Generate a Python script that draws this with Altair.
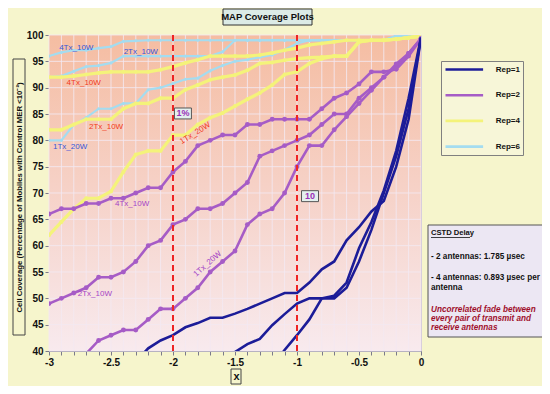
import altair as alt
import pandas as pd

FONT = "Liberation Sans, Arial, sans-serif"

# ---------------- data ----------------
x_vals = [-3.0, -2.9, -2.8, -2.7, -2.6, -2.5, -2.4, -2.3, -2.2, -2.1,
          -2.0, -1.9, -1.8, -1.7, -1.6, -1.5, -1.4, -1.3, -1.2, -1.1,
          -1.0, -0.9, -0.8, -0.7, -0.6, -0.5, -0.4, -0.3, -0.2, -0.1, 0.0]
y_ticks = [40, 45, 50, 55, 60, 65, 70, 75, 80, 85, 90, 95, 100]

reps = ["Rep=1", "Rep=2", "Rep=4", "Rep=6"]
rep_colors = ["#1c1c98", "#a65cc6", "#f4f37a", "#a4dcf0"]

# Rep=6 (light blue)
rep6_4tx = [96, 96.7, 97.1, 97.1, 97.5, 97.8, 98.8, 98.9, 99, 99,
            99, 99, 99, 99, 99, 99, 99, 99, 99, 99,
            99, 99, 99, 99, 99, 99, 99, 99, 99.8, 100, 100]
rep6_2tx = [92, 92.2, 93.1, 94, 94.2, 94.7, 96, 96, 96, 96,
            96, 96, 96, 96, 96.8, 99, 99, 99, 99, 99,
            99, 99, 99, 99, 99, 99, 99, 99, 99.8, 100, 100]
rep6_1tx = [80, 80, 83, 84.3, 86, 86, 87, 87, 89.6, 90,
            90.8, 91.6, 91.8, 93.2, 94.2, 95, 95.3, 95.8, 96.2, 97.2,
            98.4, 99, 99, 99, 99, 99, 99, 99, 99.8, 100, 100]
# Rep=4 (yellow)
rep4_4tx = [92, 92, 92.2, 92.5, 92.8, 93, 93, 93, 93, 93.4,
            94, 94.7, 95.3, 96, 96, 96, 96, 96.2, 96.6, 97.1,
            97.5, 98.1, 98.4, 98.7, 99, 99, 99, 99, 99.2, 99.5, 99.8]
rep4_2tx = [82, 82, 83, 84, 84, 84, 86, 87, 87, 88,
            88, 89.6, 90.5, 91.5, 92, 92.4, 93.3, 94.6, 94.8, 95.2,
            95.5, 95.7, 95.8, 96, 96, 98.7, 99, 99, 99.2, 99.5, 99.8]
rep4_1tx = [62, 64.5, 67, 69, 69, 70.3, 74, 77.3, 78, 78,
            81, 81, 83, 84.3, 85.2, 86.5, 87.8, 89, 90.5, 92.5,
            93, 94.6, 95.5, 96, 96, 98.7, 99, 99, 99.2, 99.5, 99.8]
# Rep=2 (purple)
rep2_4tx = [66, 67, 67, 68, 68, 69, 69, 70, 71, 71,
            74, 76, 79, 80, 81, 81, 83, 83, 84, 84,
            84, 84, 86, 88, 89, 90.7, 93, 93, 93.5, 96, 99.3]
rep2_2tx = [49, 50, 51, 52, 54, 54, 55, 57, 60, 61,
            64, 65, 67, 67, 68, 70, 72, 77, 78, 79,
            80, 81, 83, 85, 85, 88, 90, 92, 94, 96.5, 99.3]
rep2_1tx = [None, None, None, 39.5, 42, 43, 44, 44, 46, 48,
            48, 50, 52, 55, 57, 59, 64, 66, 67, 70,
            75, 79, 79, 82, 84.5, 87, 89.5, 92, 94.5, 96.5, 99.3]
# Rep=1 (dark blue)
rep1_a = [None, None, None, None, None, None, None, 38, 40.5, 42,
          43, 44.5, 45.3, 46.3, 46.3, 47.1, 48, 49, 50, 51,
          51, 53, 55.5, 57, 61, 63.5, 66.5, 68.5, 75, 84, 99.5]
rep1_b = [None, None, None, None, None, None, None, None, None, None,
          None, None, None, None, 38, 39.8, 41.3, 42.3, 44.9, 47,
          49, 50, 50, 50, 52, 57, 63, 70, 77, 86, 99.5]
rep1_c = [None, None, None, None, None, None, None, None, None, None,
          None, None, None, None, None, None, None, None, 37, 40.2,
          43, 46, 50, 50.5, 53, 59.5, 64.5, 70.5, 78, 88, 99.5]

series = [
    ("Rep=6", "4Tx_10W", rep6_4tx), ("Rep=6", "2Tx_10W", rep6_2tx), ("Rep=6", "1Tx_20W", rep6_1tx),
    ("Rep=4", "4Tx_10W", rep4_4tx), ("Rep=4", "2Tx_10W", rep4_2tx), ("Rep=4", "1Tx_20W", rep4_1tx),
    ("Rep=2", "4Tx_10W", rep2_4tx), ("Rep=2", "2Tx_10W", rep2_2tx), ("Rep=2", "1Tx_20W", rep2_1tx),
    ("Rep=1", "a", rep1_a), ("Rep=1", "b", rep1_b), ("Rep=1", "c", rep1_c),
]
rows = []
for rep, cfg, vals in series:
    for xv, yv in zip(x_vals, vals):
        if yv is not None:
            rows.append({"x": xv, "y": yv, "rep": rep, "cfg": cfg})
df = pd.DataFrame(rows)

# series labels (data coordinates)
lbl_text = ["4Tx_10W", "2Tx_10W", "1Tx_20W", "4Tx_10W", "2Tx_10W", "1Tx_20W", "4Tx_10W", "2Tx_10W", "1Tx_20W"]
lbl_x = [-2.78, -2.26, -2.83, -2.72, -2.54, -1.82, -2.33, -2.63, -1.72]
lbl_y = [97.5, 96.7, 78.8, 90.9, 82.5, 81.3, 67.9, 50.8, 56.5]
lbl_ang = [0, 0, 0, 0, 0, 328, 0, 0, 318]
lbl_grp = ["Rep=6"] * 3 + ["Rep=4"] * 3 + ["Rep=2"] * 3
lbl_df = pd.DataFrame({"t": lbl_text, "x": lbl_x, "y": lbl_y, "a": lbl_ang, "g": lbl_grp})
lbl_colors = {"Rep=6": "#3656d8", "Rep=4": "#f23a1c", "Rep=2": "#a545c6"}

red_x = [-2.0, -1.0]
ann_text = ["1%", "10"]
ann_x = [-1.92, -0.895]
ann_y = [85.1, 69.4]
ann_df = pd.DataFrame({"t": ann_text, "x": ann_x, "y": ann_y})

chart_title = "MAP Coverage Plots"
cstd_title = "CSTD Delay"
cstd_l1 = "- 2 antennas: 1.785 \u00b5sec"
cstd_l2 = ["- 4 antennas: 0.893 \u00b5sec per", "antenna"]
cstd_l3 = ["Uncorrelated fade between", "every pair of transmit and", "receive antennas"]

# ---------------- encodings ----------------
W, H = 372, 316
xscale = alt.Scale(domain=[-3, 0], nice=False, zero=False)
yscale = alt.Scale(domain=[40, 100], nice=False, zero=False)

xaxis = alt.Axis(
    values=x_vals, grid=False, tickSize=4, tickColor="#7a7a8a", domainColor="#8a8aa0",
    labelExpr="abs(datum.value*2 - round(datum.value*2)) < 0.01 ? '' + datum.value : ''",
    labelFont=FONT, labelFontSize=10, labelFontWeight="bold", labelColor="#111",
    labelPadding=2, labelOverlap=False, labelFlush=False,
    title="x", titleFont=FONT, titleFontSize=11, titleFontWeight="bold", titleColor="#111",
    titleX=W / 2 + 1, titleY=25, titleBaseline="middle",
)
yaxis = alt.Axis(
    values=y_ticks, grid=False, tickSize=4, tickColor="#7a7a8a", domainColor="#8a8aa0",
    labelFont=FONT, labelFontSize=10, labelFontWeight="bold", labelColor="#111",
    labelPadding=2,
    title="Cell Coverage (Percentage of Mobiles with Control MER <10\u207b\u00b2)",
    titleFont=FONT, titleFontSize=7.8, titleFontWeight="bold", titleColor="#111",
    titleX=-30, titleY=162, titleAngle=270, titleAlign="center", titleBaseline="middle",
)
xenc = alt.X("x:Q", scale=xscale, axis=xaxis)
yenc = alt.Y("y:Q", scale=yscale, axis=yaxis)

# custom legend symbol: a ~38px stroke while each entry only reserves 8px
legend = alt.Legend(
    title=None, orient="none", legendX=392, legendY=26, direction="vertical",
    symbolType="M-4.7,0H4.7", symbolSize=64, symbolStrokeWidth=2.6, symbolOffset=14.8,
    labelFont=FONT, labelFontSize=8, labelFontWeight="bold", labelColor="#111",
    labelOffset=25.9, padding=3, rowPadding=14.7,
    labelExpr="datum.label + '\u00a0\u00a0\u00a0\u00a0\u00a0\u00a0\u00a0\u00a0\u00a0'",
    fillColor="#f7f6d8", strokeColor="#808080",
)
color_enc = alt.Color("rep:N", scale=alt.Scale(domain=reps, range=rep_colors), legend=legend)

# ---------------- layers ----------------
one = pd.DataFrame({"k": [0]})
bg_df = pd.DataFrame({"x": [-3.0], "x2": [0.0], "y": [40], "y2": [100]})
grad = alt.Gradient(
    gradient="linear",
    stops=[alt.GradientStop(color="#f5bda2", offset=0),
           alt.GradientStop(color="#f6d2c8", offset=0.5),
           alt.GradientStop(color="#f8eaee", offset=1)],
    x1=0, x2=0, y1=0, y2=1,
)
bg = alt.Chart(bg_df).mark_rect(color=grad).encode(x=xenc, x2="x2:Q", y=yenc, y2="y2:Q")

grid_x = alt.Chart(pd.DataFrame({"x": x_vals})).mark_rule(
    color="#f3e9f2", strokeWidth=1, opacity=0.85).encode(x=xenc)
grid_y = alt.Chart(pd.DataFrame({"y": y_ticks})).mark_rule(
    color="#f3e9f2", strokeWidth=1, opacity=0.85).encode(y=yenc)


def line_layer(rep, width, pt_size):
    kw = dict(strokeWidth=width, clip=True)
    if pt_size:
        kw["point"] = alt.OverlayMarkDef(filled=True, size=pt_size, clip=True, opacity=1)
    return alt.Chart(df).transform_filter(alt.datum.rep == rep).mark_line(**kw).encode(
        x=xenc, y=yenc, color=color_enc, detail="cfg:N", order="x:Q")


l6 = line_layer("Rep=6", 2.2, 10)
l4 = line_layer("Rep=4", 3.2, 16)
l2 = line_layer("Rep=2", 2.6, 24)
l1 = line_layer("Rep=1", 2.6, 0)

red = alt.Chart(pd.DataFrame({"x": red_x})).mark_rule(
    color="#ee2424", strokeDash=[6, 4], strokeWidth=2).encode(x=xenc)

labels = []
for g, c in lbl_colors.items():
    labels.append(
        alt.Chart(lbl_df).transform_filter(alt.datum.g == g).mark_text(
            font=FONT, fontSize=8, color=c, align="center", baseline="middle").encode(
            x=xenc, y=yenc, text="t:N", angle=alt.Angle("a:Q", scale=None)))

ann_box = alt.Chart(ann_df).mark_point(
    shape="M-1.55,-1H1.55V1H-1.55Z", size=120, filled=True, fill="#e4f0ee",
    stroke="#555555", strokeWidth=1, opacity=1).encode(x=xenc, y=yenc)
ann_txt = alt.Chart(ann_df).mark_text(
    font=FONT, fontSize=9, fontWeight="bold", color="#9a30b8").encode(x=xenc, y=yenc, text="t:N")

title_box = alt.Chart(one).mark_rect(fill="#dcebe6", stroke="#333", strokeWidth=1).encode(
    x=alt.value(174), x2=alt.value(263), y=alt.value(-26), y2=alt.value(-10))
title_txt = alt.Chart(one).mark_text(
    text=chart_title, font=FONT, fontSize=9.5, fontWeight="bold", color="#111",
    align="center", baseline="middle").encode(x=alt.value(218.5), y=alt.value(-18))
ytitle_box = alt.Chart(one).mark_rect(fill=None, stroke="#444", strokeWidth=1).encode(
    x=alt.value(-36), x2=alt.value(-24), y=alt.value(24), y2=alt.value(300))
xtitle_box = alt.Chart(one).mark_rect(fill=None, stroke="#444", strokeWidth=1).encode(
    x=alt.value(182), x2=alt.value(192), y=alt.value(334), y2=alt.value(349))

cstd_box = alt.Chart(one).mark_rect(fill="#ece7f3", stroke="#555", strokeWidth=1).encode(
    x=alt.value(379), x2=alt.value(495), y=alt.value(190), y2=alt.value(302))
txt_kw = dict(font=FONT, fontSize=8.2, fontWeight="bold", align="left", baseline="middle",
              color="#111", lineHeight=10)
kw0 = dict(txt_kw)
kw0.update(fontSize=7.6)
c0 = alt.Chart(one).mark_text(text=cstd_title, **kw0).encode(x=alt.value(382), y=alt.value(198))
c0u = alt.Chart(one).mark_rule(color="#111", strokeWidth=0.8).encode(
    x=alt.value(382), x2=alt.value(421), y=alt.value(202.5))
c1 = alt.Chart(one).mark_text(text=cstd_l1, **txt_kw).encode(x=alt.value(382), y=alt.value(222))
c2 = alt.Chart(one).mark_text(text=cstd_l2, **txt_kw).encode(x=alt.value(382), y=alt.value(243))
kw3 = dict(txt_kw)
kw3.update(color="#a0102c", fontStyle="italic", lineHeight=9)
c3 = alt.Chart(one).mark_text(text=cstd_l3, **kw3).encode(x=alt.value(382), y=alt.value(274.5))

chart = alt.layer(
    bg, grid_x, grid_y, l6, l4, l2, l1, red, *labels, ann_box, ann_txt,
    title_box, title_txt, ytitle_box, xtitle_box, cstd_box, c0, c0u, c1, c2, c3,
).properties(
    width=W, height=H,
    padding={"left": 41, "top": 27, "right": 121, "bottom": 35},
    autosize=alt.AutoSizeParams(type="none"),
).configure(background="#f6f5cc").configure_view(stroke="#c4bccc", strokeWidth=1)

chart.save("out.html", embed_options={"renderer": "svg", "actions": False})
